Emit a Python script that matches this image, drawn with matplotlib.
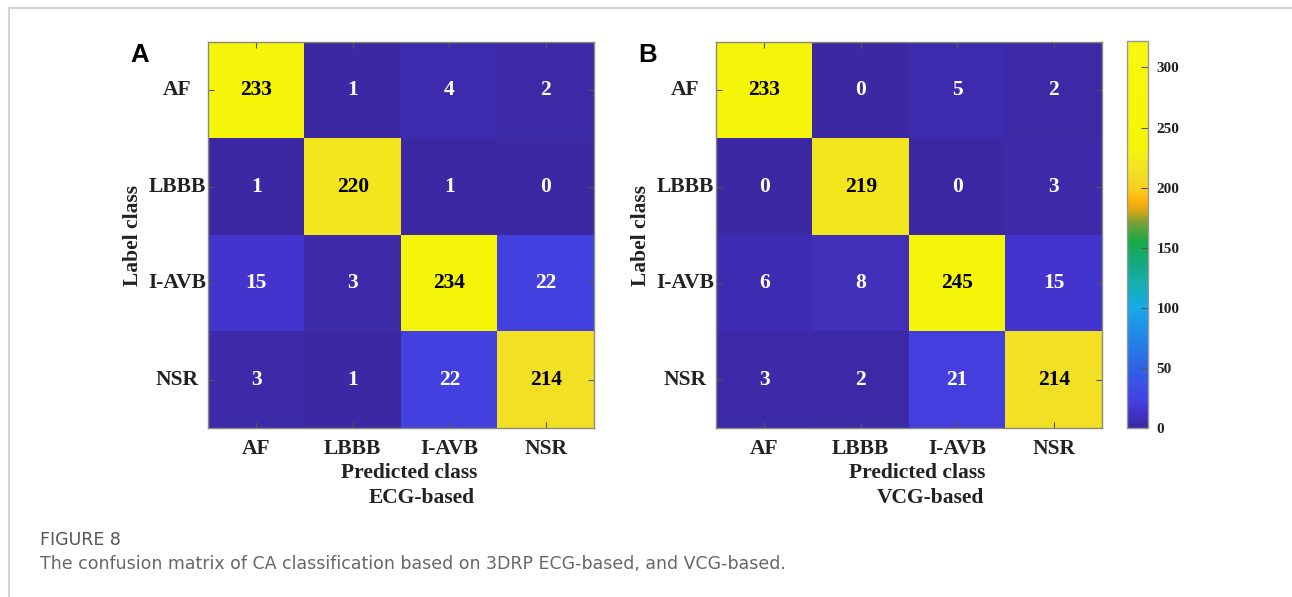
import matplotlib
matplotlib.use("Agg")
import matplotlib.pyplot as plt
import numpy as np
from matplotlib.colors import LinearSegmentedColormap, Normalize
from matplotlib.cm import ScalarMappable
from matplotlib.lines import Line2D

classes = ["AF", "LBBB", "I-AVB", "NSR"]
ecg_matrix = [[233, 1, 4, 2],
              [1, 220, 1, 0],
              [15, 3, 234, 22],
              [3, 1, 22, 214]]
vcg_matrix = [[233, 0, 5, 2],
              [0, 219, 0, 3],
              [6, 8, 245, 15],
              [3, 2, 21, 214]]
panel_letters = ["A", "B"]
panel_subtitles = ["ECG-based", "VCG-based"]
cbar_ticks = [0, 50, 100, 150, 200, 250, 300]
cbar_max = 322

W, H = 1292, 597
fig = plt.figure(figsize=(W / 100, H / 100), dpi=100)

anchors = [(0, "#3b28a2"), (15, "#4336d0"), (22, "#4441e2"), (50, "#2f63e6"),
           (80, "#1e8ee8"), (100, "#18a8e8"), (120, "#17aeb0"), (140, "#15a878"),
           (155, "#18aa48"), (170, "#70a038"), (180, "#d0a818"), (188, "#fbb00c"),
           (200, "#f8d020"), (214, "#f2e025"), (233, "#f5f50a"), (322, "#f8f810")]
cmap = LinearSegmentedColormap.from_list("cm", [(v / cbar_max, c) for v, c in anchors])
norm = Normalize(vmin=0, vmax=cbar_max)

serif = "Liberation Serif"
tc = "#222222"

def px(x, y, w, h):
    return [x / W, 1 - (y + h) / H, w / W, h / H]

lefts = [208, 716]
for k, (mat, left) in enumerate(zip([ecg_matrix, vcg_matrix], lefts)):
    ax = fig.add_axes(px(left, 42, 386, 386))
    arr = np.array(mat)
    ax.imshow(arr, cmap=cmap, norm=norm, aspect="auto", interpolation="nearest")
    for i in range(4):
        for j in range(4):
            v = arr[i, j]
            ax.text(j, i, str(v), ha="center", va="center", fontsize=15.5,
                    fontweight="bold", family=serif,
                    color="black" if v > 150 else "white")
    ax.set_xticks(range(4))
    ax.set_yticks(range(4))
    ax.set_xticklabels([])
    ax.set_yticklabels([])
    ax.tick_params(direction="in", length=4, color="#555555", top=True, right=True)
    for s in ax.spines.values():
        s.set_color("#8a8a7a")
        s.set_linewidth(1.0)
    for j, c in enumerate(classes):
        ax.text(j, 3.5 + 21 / 96.5, c, ha="center", va="center", fontsize=15.5,
                fontweight="bold", family=serif, color=tc)
    for i, c in enumerate(classes):
        ax.text(-0.5 - 31 / 96.5, i, c, ha="center", va="center", fontsize=15.5,
                fontweight="bold", family=serif, color=tc)
    ax.text(-0.5 - 75 / 96.5, 1.5, "Label class", ha="center", va="center",
            rotation=90, fontsize=15.5, fontweight="bold", family=serif, color=tc)
    ax.text(1.5 + 8 / 96.5, 3.5 + 45 / 96.5, "Predicted class", ha="center", va="center",
            fontsize=15.5, fontweight="bold", family=serif, color=tc)
    ax.text(1.5 + 21 / 96.5, 3.5 + 70 / 96.5, panel_subtitles[k], ha="center", va="center",
            fontsize=15.5, fontweight="bold", family=serif, color=tc)
    ax.text(-0.5 - 68 / 96.5, -0.5 + 13 / 96.5, panel_letters[k], ha="center", va="center",
            fontsize=18.5, fontweight="bold", family="Liberation Sans", color="black")

cax = fig.add_axes(px(1127, 41, 21, 387))
cb = fig.colorbar(ScalarMappable(norm=norm, cmap=cmap), cax=cax, ticks=cbar_ticks)
cb.outline.set_edgecolor("#999999")
cb.outline.set_linewidth(1.0)
cax.tick_params(direction="in", length=5, color="#555555", pad=6)
for t in cax.get_yticklabels():
    t.set_fontsize(11)
    t.set_fontweight("bold")
    t.set_family(serif)
    t.set_color(tc)

fig.add_artist(Line2D([9 / W, 1], [1 - 8 / H, 1 - 8 / H], color="#d2d2d2", lw=1.5))
fig.add_artist(Line2D([9 / W, 9 / W], [0, 1 - 8 / H], color="#d2d2d2", lw=1.5))

fig.text(40 / W, 1 - 540 / H, "FIGURE 8", ha="left", va="center", fontsize=12.5,
         family="DejaVu Sans", color="#555555")
fig.text(40 / W, 1 - 564 / H,
         "The confusion matrix of CA classification based on 3DRP ECG-based, and VCG-based.",
         ha="left", va="center", fontsize=12.5, family="DejaVu Sans", color="#666666")

fig.savefig("out.png", dpi=100)
